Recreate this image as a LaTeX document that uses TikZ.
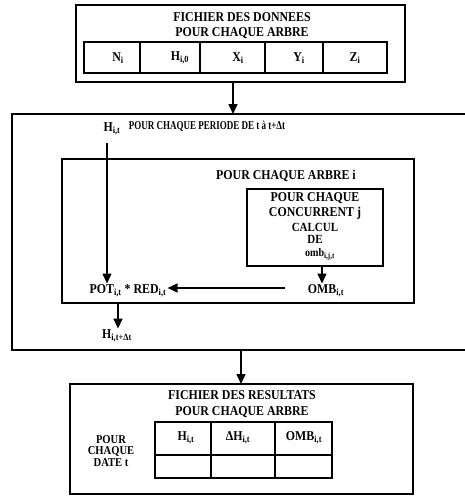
\documentclass[tikz,border=0pt]{standalone}
\usepackage{fontspec}
\setmainfont{Liberation Serif}
\newfontfamily\bfc[FakeStretch=0.88]{Liberation Serif Bold}
\newfontfamily\bfn[FakeStretch=0.75]{Liberation Serif Bold}
\usetikzlibrary{arrows.meta}
\newcommand\sbs[1]{\textsubscript{#1}}
\begin{document}
\begin{tikzpicture}[x=1pt,y=-1pt,
  box/.style={line width=1.6pt},
  arr/.style={line width=1.5pt,-{Triangle[width=9pt,length=10pt]}},
  txt/.style={font=\bfc\fontsize{13.5}{15}\selectfont, inner sep=1pt},
  tight/.style={font=\bfc\fontsize{12.5}{14}\selectfont, inner sep=0pt},
  narrow/.style={font=\bfn\fontsize{12}{14}\selectfont, inner sep=1pt}]
\useasboundingbox (0,0) rectangle (465,496);
% top box
\draw[box] (76,5) rectangle (405,82);
\node[txt] (t1) at (242,17) {FICHIER DES DONNEES};
\node[txt] (t2) at (242,33) {POUR CHAQUE ARBRE};
\draw[box] (84,42) rectangle (387,73);
\foreach \x in {140,200,265,323} \draw[box] (\x,42) -- (\x,73);
\node[txt] (cn) at (118,58) {N\sbs{i}};
\node[txt] (ch) at (180,58) {H\sbs{i,0}};
\node[txt] (cx) at (238,58) {X\sbs{i}};
\node[txt] (cy) at (299,58) {Y\sbs{i}};
\node[txt] (cz) at (355,58) {Z\sbs{i}};
\coordinate (topout) at (233,82);
% middle outer box
\draw[box] (475,114) -- (12,114) -- (12,350) -- (475,350);
\coordinate (midin) at (233,114);
\draw[arr] (topout) -- (midin);
\node[narrow] (per) at (207,126) {POUR CHAQUE PERIODE DE t à t+Δt};
\node[txt] (hit) at (112,129) {H\sbs{i,t}};
% inner box
\draw[box] (62,159) rectangle (414,303);
\node[txt] (arb) at (286,176) {POUR CHAQUE ARBRE i};
% innermost box
\draw[box] (247,189) rectangle (383,266);
\node[txt] (c1) at (315,198) {POUR CHAQUE};
\node[txt] (c2) at (315,213) {CONCURRENT j};
\node[tight] (c3) at (315,227) {CALCUL};
\node[tight] (c4) at (315,239) {DE};
\node[tight,font=\bfc\fontsize{11.5}{13}\selectfont] (c5) at (320,254) {omb\sbs{i,j,t}};
\coordinate (cbot) at (322,266);
\node[txt] (omb) at (326,291) {OMB\sbs{i,t}};
\draw[arr] (cbot) -- (omb.north -| cbot);
\node[txt] (pot) at (128,291) {POT\sbs{i,t} * RED\sbs{i,t}};
\coordinate (ombw) at (285,288);
\draw[arr] (ombw) -- (pot.east |- ombw);
\coordinate (hline) at (107,143);
\draw[arr] (hline) -- (pot.north -| hline);
\coordinate (ibot) at (118,303);
\node[txt] (hnext) at (117,336) {H\sbs{i,t+Δt}};
\draw[arr] (ibot) -- (hnext.north -| ibot);
\coordinate (midout) at (241,350);
% bottom box
\draw[box] (70,384) rectangle (413,494);
\coordinate (botin) at (241,384);
\draw[arr] (midout) -- (botin);
\node[txt] (r1) at (242,395) {FICHIER DES RESULTATS};
\node[txt] (r2) at (242,412) {POUR CHAQUE ARBRE};
\draw[box] (155,422) rectangle (332,478);
\draw[box] (155,455) -- (332,455);
\foreach \x in {211,275} \draw[box] (\x,422) -- (\x,478);
\node[txt] (rh) at (186,438) {H\sbs{i,t}};
\node[txt] (rd) at (238,438) {ΔH\sbs{i,t}};
\node[txt] (ro) at (304,438) {OMB\sbs{i,t}};
\node[txt,align=center,font=\bfc\fontsize{12}{11.5}\selectfont] (pd) at (111,451) {POUR\\CHAQUE\\DATE t};
\end{tikzpicture}
\end{document}
